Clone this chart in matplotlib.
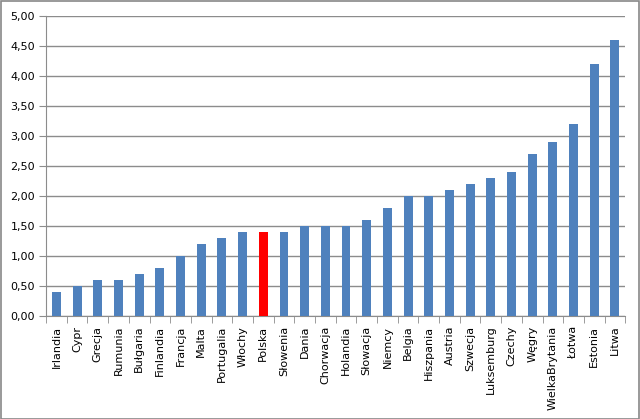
import numpy as np
import matplotlib
matplotlib.use("Agg")
import matplotlib.pyplot as plt
from matplotlib.patches import Rectangle

countries = [
    "Irlandia", "Cypr", "Grecja", "Rumunia", "Bułgaria", "Finlandia", "Francja",
    "Malta", "Portugalia", "Włochy", "Polska", "Słowenia", "Dania", "Chorwacja",
    "Holandia", "Słowacja", "Niemcy", "Belgia", "Hiszpania", "Austria", "Szwecja",
    "Luksemburg", "Czechy", "Węgry", "WielkaBrytania", "Łotwa", "Estonia", "Litwa",
]
values = [
    0.4, 0.5, 0.6, 0.6, 0.7, 0.8, 1.0, 1.2, 1.3, 1.4, 1.4, 1.4, 1.5, 1.5,
    1.5, 1.6, 1.8, 2.0, 2.0, 2.1, 2.2, 2.3, 2.4, 2.7, 2.9, 3.2, 4.2, 4.6,
]
highlight = "Polska"
y_ticks = [0.0, 0.5, 1.0, 1.5, 2.0, 2.5, 3.0, 3.5, 4.0, 4.5, 5.0]

BLUE = "#4F81BD"
RED = "#FF0000"
GRID = "#8C8C8C"

fig = plt.figure(figsize=(6.4, 4.19), dpi=100)
fig.patch.set_facecolor("white")
fig.patches.append(Rectangle((0.001, 0.001), 0.998, 0.997, transform=fig.transFigure,
                             fill=False, edgecolor="#888888", linewidth=1.2))

ax = fig.add_axes([0.072, 0.246, 0.905, 0.716])
x = np.arange(len(countries))
colors = [RED if c == highlight else BLUE for c in countries]
ax.bar(x, values, width=0.43, color=colors, zorder=3)

ax.set_xlim(-0.5, len(countries) - 0.5)
ax.set_ylim(0, 5)
ax.set_yticks(y_ticks)
ax.set_yticklabels([f"{v:.2f}".replace(".", ",") for v in y_ticks], fontsize=8)
ax.yaxis.grid(True, color=GRID, linewidth=1.0, zorder=0)
ax.tick_params(axis="y", length=5, color=GRID, pad=3)

ax.set_xticks(x)
ax.set_xticklabels(countries, rotation=90, fontsize=8)
ax.set_xticks(np.arange(-0.5, len(countries)), minor=True)
ax.tick_params(axis="x", which="major", length=0, pad=7)
ax.tick_params(axis="x", which="minor", length=5, color=GRID)

for side in ["top", "right"]:
    ax.spines[side].set_visible(False)
ax.spines["left"].set_color(GRID)
ax.spines["bottom"].set_color(GRID)

fig.savefig("out.png", dpi=100)
